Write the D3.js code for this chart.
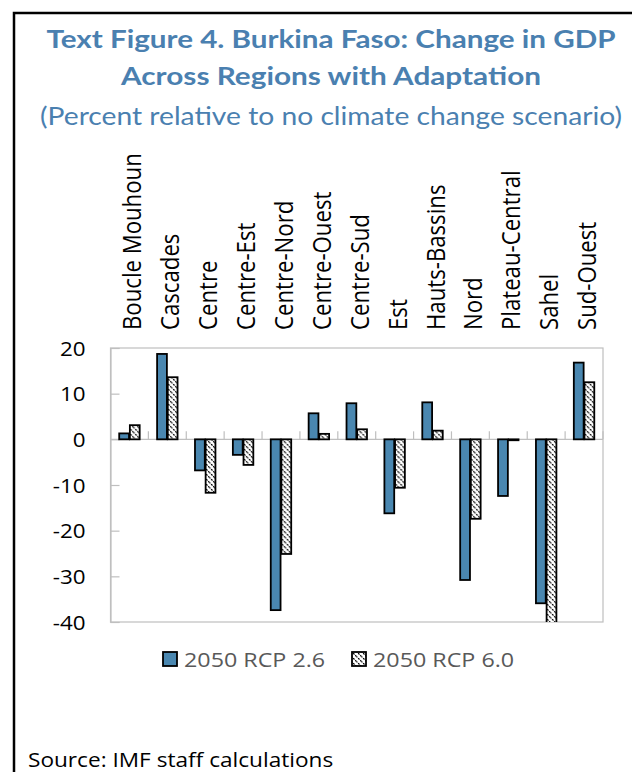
<!DOCTYPE html>
<html>
<head>
<meta charset="utf-8">
<script src="https://cdn.jsdelivr.net/npm/d3@7"></script>
<style>
  body { margin: 0; background: #fff; }
  svg { display: block; font-family: "Open Sans", sans-serif; }
</style>
</head>
<body>
<div id="vis"></div>
<script>
const FRAME_WIDTH = 632;
const FRAME_HEIGHT = 772;
const MARGINS = {left: 110.5, right: 29, top: 348, bottom: 150};

// regions and values
const regions = ["Boucle Mouhoun", "Cascades", "Centre", "Centre-Est", "Centre-Nord",
                 "Centre-Ouest", "Centre-Sud", "Est", "Hauts-Bassins", "Nord",
                 "Plateau-Central", "Sahel", "Sud-Ouest"];
const rcp26 = [1.3, 18.7, -6.8, -3.4, -37.4, 5.7, 7.9, -16.2, 8.1, -30.8, -12.4, -35.9, 16.8];
const rcp60 = [3.1, 13.6, -11.7, -5.6, -25.1, 1.2, 2.2, -10.6, 1.9, -17.4, -0.2, -42.0, 12.5];
const seriesNames = ["2050 RCP 2.6", "2050 RCP 6.0"];
const yTicks = [20, 10, 0, -10, -20, -30, -40];

const BLUE = "#4a87b0";
const TITLE_BLUE = "#4a80b0";
const SX = 1.12; // the picture is a bit wider than tall

const VIS_WIDTH = FRAME_WIDTH - MARGINS.left - MARGINS.right;
const VIS_HEIGHT = FRAME_HEIGHT - MARGINS.top - MARGINS.bottom;

const svg = d3.select("#vis")
  .append("svg")
    .attr("width", FRAME_WIDTH)
    .attr("height", FRAME_HEIGHT);

// hatch pattern for RCP 6.0
const defs = svg.append("defs");
const pat = defs.append("pattern")
    .attr("id", "hatch")
    .attr("patternUnits", "userSpaceOnUse")
    .attr("width", 5).attr("height", 5);
pat.append("rect").attr("width", 5).attr("height", 5).attr("fill", "#fff");
pat.append("path")
    .attr("d", "M-1,-1L6,6M-1,4L1,6M4,-1L6,1")
    .attr("stroke", "#000").attr("stroke-width", 1.2)
    .attr("stroke-dasharray", "2,1");

defs.append("clipPath").attr("id", "plotclip")
  .append("rect")
    .attr("x", -5).attr("y", 0)
    .attr("width", VIS_WIDTH + 10).attr("height", VIS_HEIGHT);

// frame lines (left and top)
svg.append("path")
    .attr("d", "M14," + FRAME_HEIGHT + "V13H" + FRAME_WIDTH)
    .attr("fill", "none").attr("stroke", "#000").attr("stroke-width", 2.5);

// titles
const titles = [
  {t: "Text Figure 4. Burkina Faso: Change in GDP", y: 48, w: 569, bold: true},
  {t: "Across Regions with Adaptation", y: 85, w: 420, bold: true},
  {t: "(Percent relative to no climate change scenario)", y: 125, w: 582, bold: false}
];
svg.selectAll(".title")
  .data(titles)
  .enter()
  .append("text")
    .attr("class", "title")
    .attr("x", 331)
    .attr("y", (d) => d.y)
    .attr("text-anchor", "middle")
    .attr("font-family", "Lato, sans-serif")
    .attr("font-weight", (d) => d.bold ? 700 : 400)
    .attr("font-size", 25)
    .attr("textLength", (d) => d.w)
    .attr("lengthAdjust", "spacingAndGlyphs")
    .attr("fill", TITLE_BLUE)
    .text((d) => d.t);

const plot = svg.append("g")
    .attr("transform", "translate(" + MARGINS.left + "," + MARGINS.top + ")");

// scales
const X0 = d3.scaleBand()
    .domain(regions)
    .range([0, VIS_WIDTH])
    .paddingInner(0.46)
    .paddingOuter(0.23);
const X1 = d3.scaleBand()
    .domain(seriesNames)
    .range([0, X0.bandwidth()])
    .paddingInner(0.08);
const Y_SCALE = d3.scaleLinear()
    .domain([-40, 20])
    .range([VIS_HEIGHT, 0]);

// plot border
plot.append("rect")
    .attr("width", VIS_WIDTH).attr("height", VIS_HEIGHT)
    .attr("fill", "none").attr("stroke", "#bfbfbf").attr("stroke-width", 1.2);

// y axis with inward ticks
const yAxis = plot.append("g")
    .call(d3.axisLeft(Y_SCALE).tickValues(yTicks).tickSize(-9).tickPadding(0)
          .tickFormat((d) => String(d)));
yAxis.select(".domain").attr("stroke", "#bfbfbf").attr("stroke-width", 1.2);
yAxis.selectAll(".tick line").attr("stroke", "#bfbfbf").attr("stroke-width", 1.2);
yAxis.selectAll(".tick text")
    .attr("x", null).attr("dy", null)
    .attr("transform", "translate(-25,7) scale(" + SX + ",1)")
    .attr("font-size", 20)
    .attr("font-family", "'Open Sans', sans-serif")
    .attr("fill", "#000");

// zero line and category boundary ticks
const Y0 = Y_SCALE(0);
plot.append("line")
    .attr("x1", 0).attr("x2", VIS_WIDTH)
    .attr("y1", Y0).attr("y2", Y0)
    .attr("stroke", "#bfbfbf").attr("stroke-width", 1.2);
plot.selectAll(".cattick")
  .data(d3.range(1, regions.length + 1))
  .enter()
  .append("line")
    .attr("x1", (i) => i * X0.step()).attr("x2", (i) => i * X0.step())
    .attr("y1", Y0 - 8).attr("y2", Y0)
    .attr("stroke", "#bfbfbf").attr("stroke-width", 1.2);

// bars
const rows = regions.map((r, i) => ({region: r, vals: [rcp26[i], rcp60[i]]}));
const groups = plot.append("g")
    .attr("clip-path", "url(#plotclip)")
  .selectAll(".grp")
  .data(rows)
  .enter()
  .append("g")
    .attr("transform", (d) => "translate(" + X0(d.region) + ",0)");
groups.selectAll("rect")
  .data((d) => d.vals.map((v, k) => ({s: seriesNames[k], v: v, k: k})))
  .enter()
  .append("rect")
    .attr("x", (d) => X1(d.s))
    .attr("width", X1.bandwidth())
    .attr("y", (d) => Y_SCALE(Math.max(0, d.v)))
    .attr("height", (d) => Math.abs(Y_SCALE(d.v) - Y0))
    .attr("fill", (d) => d.k === 0 ? BLUE : "url(#hatch)")
    .attr("stroke", "#000")
    .attr("stroke-width", 1.8);

// category labels, rotated, reading upward from y = 330
plot.selectAll(".catlabel")
  .data(regions)
  .enter()
  .append("text")
    .attr("transform", (d) => "translate(" + (X0(d) + X0.bandwidth() / 2 + 12) + "," + (330 - MARGINS.top) +
                              ") scale(" + SX + ",1) rotate(-90)")
    .attr("text-anchor", "start")
    .attr("font-size", 22.2)
    .attr("fill", "#000")
    .text((d) => d);

// legend
const legend = svg.append("g")
    .attr("transform", "translate(163,652)");
const legItems = legend.selectAll(".leg")
  .data(seriesNames)
  .enter()
  .append("g")
    .attr("transform", (d, i) => "translate(" + (i * 189) + ",0)");
legItems.append("rect")
    .attr("width", 14).attr("height", 14)
    .attr("fill", (d, i) => i === 0 ? BLUE : "url(#hatch)")
    .attr("stroke", "#000").attr("stroke-width", 1.8);
legItems.append("text")
    .attr("transform", "translate(21,15) scale(" + SX + ",1)")
    .attr("font-size", 20.8)
    .attr("fill", "#595959")
    .text((d) => d);

// source note
svg.append("text")
    .attr("transform", "translate(28,767) scale(" + SX + ",1)")
    .attr("font-size", 20.2)
    .attr("fill", "#000")
    .text("Source: IMF staff calculations");
</script>
</body>
</html>
